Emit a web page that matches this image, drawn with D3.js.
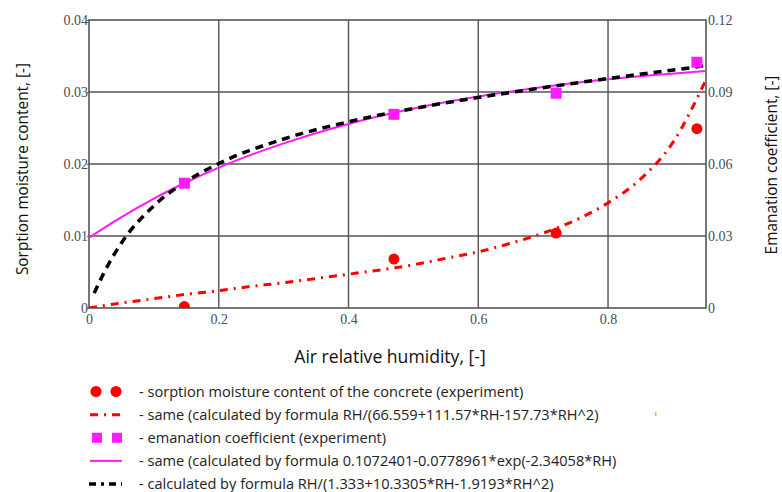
<!DOCTYPE html>
<html>
<head>
<meta charset="utf-8">
<script src="https://cdn.jsdelivr.net/npm/d3@7"></script>
<style>
  body { margin: 0; background: #fff; }
  .tick-label { font-family: "Liberation Serif", serif; font-size: 14px; fill: #454c5c; }
  .title { font-family: "Open Sans", sans-serif; font-size: 15.4px; fill: #111; }
  .legend { font-family: "Open Sans", sans-serif; font-size: 14.6px; fill: #222; }
</style>
</head>
<body>
<svg id="chart" width="782" height="492"></svg>
<script>
// experiment points, RH
const expRH = [0.147, 0.47, 0.72, 0.937];
// sorption moisture content (left axis)
const expSorption = [0.0002, 0.0068, 0.0104, 0.0249];
// emanation coefficient (right axis)
const expEmanation = [0.052, 0.0807, 0.0895, 0.1024];

// red dash-dot fitted curve, left axis
const fitSorptionRH = [0, 0.05, 0.1, 0.15, 0.2, 0.25, 0.3, 0.35, 0.4, 0.45, 0.5, 0.55, 0.6, 0.65, 0.7, 0.75, 0.8, 0.85, 0.9, 0.95];
const fitSorption = [0, 0.0007, 0.0013, 0.0019, 0.0024, 0.003, 0.0035, 0.0041, 0.0047, 0.0053, 0.006, 0.0069, 0.0078, 0.009, 0.0104, 0.0122, 0.0146, 0.0179, 0.023, 0.0315];

// magenta fitted curve, right axis
const fitEmanRH = [0, 0.05, 0.1, 0.15, 0.2, 0.3, 0.4, 0.5, 0.6, 0.7, 0.8, 0.95];
const fitEman = [0.0293, 0.0379, 0.0456, 0.0524, 0.0585, 0.0686, 0.0767, 0.0831, 0.0881, 0.0921, 0.0953, 0.0988];

// black dashed curve, right axis
const fitBlackRH = [0.008, 0.025, 0.05, 0.1, 0.15, 0.2, 0.3, 0.4, 0.5, 0.6, 0.7, 0.8, 0.95];
const fitBlack = [0.0062, 0.0157, 0.0271, 0.0426, 0.0528, 0.0602, 0.0704, 0.0776, 0.0831, 0.0877, 0.0918, 0.0956, 0.1009];

const xTicks = [0, 0.2, 0.4, 0.6, 0.8];
const leftTicks = [0, 0.01, 0.02, 0.03, 0.04];
const rightTicks = [0, 0.03, 0.06, 0.09, 0.12];

const legendItems = [
  "- sorption moisture content of the concrete (experiment)",
  "- same (calculated by  formula RH/(66.559+111.57*RH-157.73*RH^2)",
  "- emanation coefficient (experiment)",
  "- same (calculated by  formula 0.1072401-0.0778961*exp(-2.34058*RH)",
  "- calculated by formula RH/(1.333+10.3305*RH-1.9193*RH^2)"
];

const svg = d3.select("#chart");
const pLeft = 89, pRight = 706, pTop = 20, pBottom = 308;

const x = d3.scaleLinear().domain([0, 0.951]).range([pLeft, pRight]);
const yL = d3.scaleLinear().domain([0, 0.04]).range([pBottom, pTop]);
const yR = d3.scaleLinear().domain([0, 0.12]).range([pBottom, pTop]);

svg.append("defs").append("clipPath").attr("id", "plot")
  .append("rect").attr("x", pLeft).attr("y", pTop)
  .attr("width", pRight - pLeft).attr("height", pBottom - pTop);

// grid
const grid = svg.append("g").attr("stroke", "#555").attr("stroke-width", 1.4);
grid.selectAll(".v").data(xTicks.slice(1)).join("line")
  .attr("x1", d => x(d)).attr("x2", d => x(d))
  .attr("y1", pTop).attr("y2", pBottom);
grid.selectAll(".h").data(leftTicks.slice(1, -1)).join("line")
  .attr("x1", pLeft).attr("x2", pRight)
  .attr("y1", d => yL(d)).attr("y2", d => yL(d));
svg.append("rect").attr("x", pLeft).attr("y", pTop)
  .attr("width", pRight - pLeft).attr("height", pBottom - pTop)
  .attr("fill", "none").attr("stroke", "#555").attr("stroke-width", 1.6);

// axes (labels only, grid does the lines)
const axL = svg.append("g").attr("transform", `translate(${pLeft},0)`)
  .call(d3.axisLeft(yL).tickValues(leftTicks).tickSize(2).tickFormat(d3.format("")));
const axR = svg.append("g").attr("transform", `translate(${pRight},0)`)
  .call(d3.axisRight(yR).tickValues(rightTicks).tickSize(0).tickPadding(2).tickFormat(d3.format("")));
const axB = svg.append("g").attr("transform", `translate(0,${pBottom})`)
  .call(d3.axisBottom(x).tickValues(xTicks).tickSize(0).tickPadding(6).tickFormat(d3.format("")));
[axL, axR, axB].forEach(a => {
  a.select(".domain").remove();
  a.selectAll(".tick line").attr("stroke", "#555");
  a.selectAll("text").attr("class", "tick-label").attr("fill", null);
});
axL.selectAll("text").attr("x", -1);

// curves
const marks = svg.append("g").attr("clip-path", "url(#plot)");
const line = (ys) => d3.line().curve(d3.curveMonotoneX).x(d => x(d[0])).y(d => ys(d[1]));

marks.append("path").datum(d3.zip(fitEmanRH, fitEman))
  .attr("d", line(yR)).attr("fill", "none")
  .attr("stroke", "#ff1aff").attr("stroke-width", 2);
marks.append("path").datum(d3.zip(fitBlackRH, fitBlack))
  .attr("d", line(yR)).attr("fill", "none")
  .attr("stroke", "#000").attr("stroke-width", 3.5)
  .attr("stroke-dasharray", "8,6");
marks.append("path").datum(d3.zip(fitSorptionRH, fitSorption))
  .attr("d", line(yL)).attr("fill", "none")
  .attr("stroke", "#ff0000").attr("stroke-width", 3)
  .attr("stroke-dasharray", "8,6,2,6");

// experimental points
marks.selectAll(".sq").data(d3.zip(expRH, expEmanation)).join("rect")
  .attr("x", d => x(d[0]) - 5.5).attr("y", d => yR(d[1]) - 5.5)
  .attr("width", 11).attr("height", 11).attr("fill", "#ff1aff");
marks.selectAll(".dot").data(d3.zip(expRH, expSorption)).join("circle")
  .attr("cx", d => x(d[0])).attr("cy", d => yL(d[1]))
  .attr("r", 5.5).attr("fill", "#ff0000");

// titles
svg.append("text").attr("class", "title")
  .attr("transform", "translate(28,169) rotate(-90)")
  .attr("text-anchor", "middle").text("Sorption moisture content, [-]");
svg.append("text").attr("class", "title")
  .attr("transform", "translate(777,165) rotate(-90)")
  .attr("text-anchor", "middle").text("Emanation coefficient, [-]");
svg.append("text").attr("class", "title")
  .style("font-size", "17.6px")
  .attr("x", 390).attr("y", 363)
  .attr("text-anchor", "middle").text("Air relative humidity, [-]");

// legend
const rowY = d3.scaleLinear().domain([0, 4]).range([391.5, 484]);
const lg = svg.append("g");
lg.selectAll("text").data(legendItems).join("text")
  .attr("class", "legend").attr("x", 139)
  .attr("y", (d, i) => rowY(i) + 5).text(d => d);

lg.selectAll(".ld").data([96, 116]).join("circle")
  .attr("cx", d => d).attr("cy", rowY(0)).attr("r", 5.5).attr("fill", "#ff0000");
lg.selectAll(".ls").data([97, 117]).join("rect")
  .attr("x", d => d - 5).attr("y", rowY(2) - 5).attr("width", 10).attr("height", 10)
  .attr("fill", "#ff1aff");
lg.append("line").attr("x1", 90).attr("x2", 120).attr("y1", rowY(1)).attr("y2", rowY(1))
  .attr("stroke", "#ff0000").attr("stroke-width", 3).attr("stroke-dasharray", "8,6,2,6");
lg.append("line").attr("x1", 90).attr("x2", 122).attr("y1", rowY(3)).attr("y2", rowY(3))
  .attr("stroke", "#ff1aff").attr("stroke-width", 2);
lg.append("line").attr("x1", 89).attr("x2", 122).attr("y1", rowY(4)).attr("y2", rowY(4))
  .attr("stroke", "#000").attr("stroke-width", 3.5).attr("stroke-dasharray", "7,5,3,5");

// small stray mark in the original
svg.append("rect").attr("x", 655).attr("y", 412).attr("width", 1.5).attr("height", 4).attr("fill", "#ffb040");
</script>
</body>
</html>
